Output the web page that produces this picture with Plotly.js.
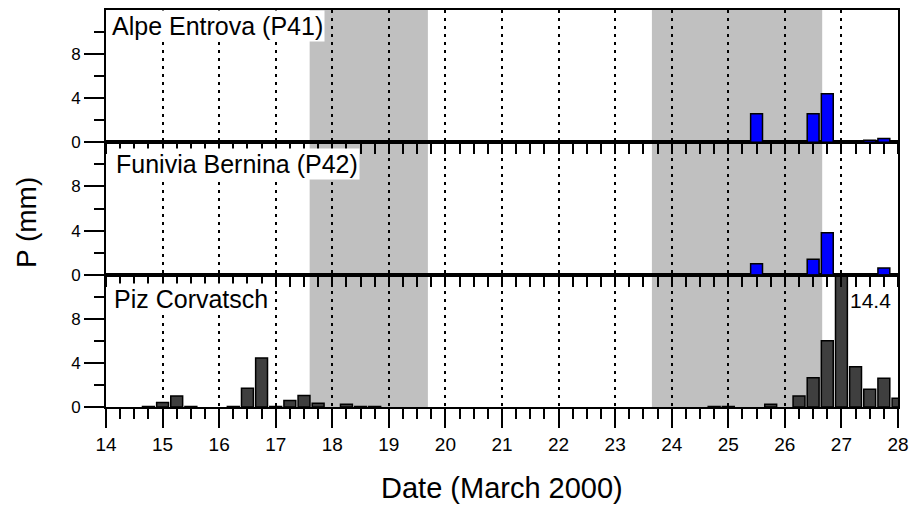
<!DOCTYPE html>
<html>
<head>
<meta charset="utf-8">
<script src="https://cdn.plot.ly/plotly-3.0.1.min.js"></script>
<style>html,body{margin:0;padding:0;background:#fff;}#chart{width:912px;height:508px;}</style>
</head>
<body>
<div id="chart"></div>
<script>
// Panel labels
const panelNames = ["Alpe Entrova (P41)", "Funivia Bernina (P42)", "Piz Corvatsch"];

// Alpe Entrova (P41) - 6-hourly precipitation (mm)
const p41Times = [25.5, 26.5, 26.75, 27.5, 27.75];
const p41Values = [2.6, 2.6, 4.4, 0.2, 0.35];

// Funivia Bernina (P42)
const p42Times = [25.5, 26.5, 26.75, 27.75];
const p42Values = [1.0, 1.4, 3.8, 0.6];

// Piz Corvatsch
const corvTimes = [14.75, 15.0, 15.25, 15.5, 16.25, 16.5, 16.75, 17.0, 17.25, 17.5, 17.75,
                   18.25, 18.5, 18.75, 24.75, 25.0, 25.75, 26.25, 26.5, 26.75, 27.0,
                   27.25, 27.5, 27.75, 28.0];
const corvValues = [0.05, 0.4, 1.0, 0.05, 0.05, 1.7, 4.45, 0.05, 0.6, 1.05, 0.35,
                    0.25, 0.05, 0.05, 0.05, 0.05, 0.25, 1.0, 2.65, 6.0, 14.4,
                    3.65, 1.6, 2.6, 0.8];

// Shaded periods (days of March 2000)
const shadeStart = [17.6, 23.65];
const shadeEnd = [19.69, 26.66];

// Axis ticks
const xTickVals = [14, 15, 16, 17, 18, 19, 20, 21, 22, 23, 24, 25, 26, 27, 28];
const xTickText = ["14", "15", "16", "17", "18", "19", "20", "21", "22", "23", "24", "25", "26", "27", "28"];
const yTickVals = [0, 4, 8];
const yMinorVals = [2, 6, 10];
const xTitle = "Date (March 2000)";
const yTitle = "P (mm)";
const peakLabel = "14.4";

const FONT = "Arial, 'Liberation Sans', sans-serif";
const barW = 0.21;

const traces = [
  {type: 'bar', x: p41Times, y: p41Values, xaxis: 'x3', yaxis: 'y3', width: barW,
   marker: {color: '#0000ff', line: {color: '#000', width: 1.5}}, hoverinfo: 'x+y'},
  {type: 'bar', x: p42Times, y: p42Values, xaxis: 'x2', yaxis: 'y2', width: barW,
   marker: {color: '#0000ff', line: {color: '#000', width: 1.5}}, hoverinfo: 'x+y'},
  {type: 'bar', x: corvTimes, y: corvValues, xaxis: 'x', yaxis: 'y', width: barW,
   marker: {color: '#3f3f3f', line: {color: '#000', width: 1.5}}, hoverinfo: 'x+y'}
];

function xAx(anchor, showLabels, majorLen) {
  return {
    anchor: anchor, domain: [0, 1], range: [14, 28],
    tickmode: 'array', tickvals: xTickVals, ticktext: xTickText,
    showticklabels: showLabels,
    ticks: 'outside', ticklen: majorLen, tickwidth: 2, tickcolor: '#000',
    minor: {tickmode: 'linear', tick0: 14, dtick: 0.25, ticks: 'outside', ticklen: 10, tickwidth: 2, tickcolor: '#000', showgrid: false},
    showgrid: true, gridcolor: '#000', gridwidth: 2, griddash: '3px,5px',
    showline: true, mirror: true, linecolor: '#000', linewidth: 2,
    zeroline: false, fixedrange: true,
    tickfont: {family: FONT, size: 19, color: '#000'}
  };
}
function yAx(anchor, domain) {
  return {
    anchor: anchor, domain: domain, range: [0, 12],
    tickmode: 'array', tickvals: yTickVals,
    ticks: 'outside', ticklen: 20, tickwidth: 2, tickcolor: '#000',
    minor: {tickmode: 'array', tickvals: yMinorVals, ticks: 'outside', ticklen: 10, tickwidth: 2, tickcolor: '#000', showgrid: false},
    showgrid: false, zeroline: false,
    showline: true, mirror: true, linecolor: '#000', linewidth: 2,
    fixedrange: true,
    tickfont: {family: FONT, size: 17, color: '#000'}
  };
}

const shapes = [];
['', '2', '3'].forEach(function (s) {
  for (let i = 0; i < shadeStart.length; i++) {
    shapes.push({type: 'rect', xref: 'x' + s, yref: 'y' + s + ' domain',
      x0: shadeStart[i], x1: shadeEnd[i], y0: 0, y1: 1,
      fillcolor: '#c0c0c0', line: {width: 0}, layer: 'below'});
  }
});

const annotations = [
  {text: panelNames[0], xref: 'paper', x: 0, xanchor: 'left', xshift: 4,
   yref: 'y3', y: 10.55, yanchor: 'middle', showarrow: false,
   font: {family: FONT, size: 25, color: '#000'}, bgcolor: '#fff', borderpad: 1},
  {text: panelNames[1], xref: 'paper', x: 0, xanchor: 'left', xshift: 8,
   yref: 'y2', y: 10.0, yanchor: 'middle', showarrow: false,
   font: {family: FONT, size: 25, color: '#000'}, bgcolor: '#fff', borderpad: 1},
  {text: panelNames[2], xref: 'paper', x: 0, xanchor: 'left', xshift: 6,
   yref: 'y', y: 9.8, yanchor: 'middle', showarrow: false,
   font: {family: FONT, size: 25, color: '#000'}, bgcolor: '#fff', borderpad: 1},
  {text: peakLabel, xref: 'x', x: 28, xanchor: 'right', xshift: -5,
   yref: 'y', y: 9.7, yanchor: 'middle', showarrow: false,
   font: {family: FONT, size: 21, color: '#000'}},
  {text: xTitle, xref: 'paper', x: 0.5, xanchor: 'center',
   yref: 'paper', y: -0.2494, yanchor: 'bottom', showarrow: false,
   font: {family: FONT, size: 29, color: '#000'}},
  {text: yTitle, xref: 'paper', x: -0.0997, xanchor: 'center',
   yref: 'paper', y: 0.4635, yanchor: 'middle', showarrow: false, textangle: -90,
   font: {family: FONT, size: 28, color: '#000'}}
];

const layout = {
  width: 912, height: 508,
  margin: {l: 106, r: 14, t: 10, b: 101},
  paper_bgcolor: '#fff', plot_bgcolor: '#fff',
  showlegend: false, bargap: 0,
  font: {family: FONT, color: '#000'},
  xaxis: xAx('y', true, 19),
  xaxis2: Object.assign(xAx('y2', false, 10), {matches: 'x'}),
  xaxis3: Object.assign(xAx('y3', false, 10), {matches: 'x'}),
  yaxis: yAx('x', [0, 1 / 3]),
  yaxis2: yAx('x2', [1 / 3, 2 / 3]),
  yaxis3: yAx('x3', [2 / 3, 1]),
  shapes: shapes,
  annotations: annotations
};

Plotly.newPlot('chart', traces, layout, {displayModeBar: false, staticPlot: true});
</script>
</body>
</html>
